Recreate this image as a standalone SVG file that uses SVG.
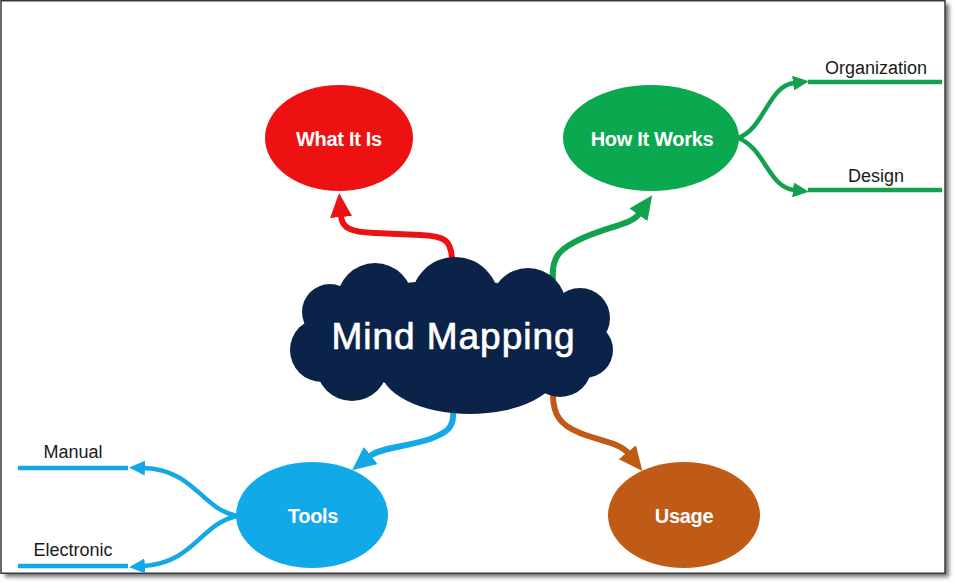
<svg xmlns="http://www.w3.org/2000/svg" width="956" height="585" viewBox="0 0 956 585">
<style>
.conn{fill:none;stroke-linecap:butt;stroke-linejoin:round}
.main{stroke-width:6}
.br{stroke-width:4.5}
.lbl{font-family:"Liberation Sans",Arial,sans-serif;font-weight:bold;font-size:20px;fill:#fff;text-anchor:middle;letter-spacing:-0.3px}
.sub{font-family:"Liberation Sans",Arial,sans-serif;font-size:18px;fill:#1a1a1a;text-anchor:middle}
.red{stroke:#ee1111}.grn{stroke:#12a24e}.blu{stroke:#14a8e6}.brn{stroke:#bf5b17}
</style>
<defs>
<filter id="sh" x="-5%" y="-5%" width="110%" height="110%"><feGaussianBlur stdDeviation="2"/></filter>
<marker id="aR" viewBox="0 0 24 22" refX="1" refY="11" markerWidth="24" markerHeight="22" markerUnits="userSpaceOnUse" orient="auto"><path d="M0,0 L24,11 L0,22 z" fill="#ee1111"/></marker>
<marker id="aG" viewBox="0 0 24 22" refX="1" refY="11" markerWidth="24" markerHeight="22" markerUnits="userSpaceOnUse" orient="auto"><path d="M0,0 L24,11 L0,22 z" fill="#12a24e"/></marker>
<marker id="aB" viewBox="0 0 24 22" refX="1" refY="11" markerWidth="24" markerHeight="22" markerUnits="userSpaceOnUse" orient="auto"><path d="M0,0 L24,11 L0,22 z" fill="#14a8e6"/></marker>
<marker id="aO" viewBox="0 0 24 22" refX="1" refY="11" markerWidth="24" markerHeight="22" markerUnits="userSpaceOnUse" orient="auto"><path d="M0,0 L24,11 L0,22 z" fill="#bf5b17"/></marker>
<marker id="sG" viewBox="0 0 16 15" refX="1" refY="7.5" markerWidth="16" markerHeight="15" markerUnits="userSpaceOnUse" orient="auto"><path d="M0,0 L16,7.5 L0,15 z" fill="#12a24e"/></marker>
<marker id="sB" viewBox="0 0 16 15" refX="1" refY="7.5" markerWidth="16" markerHeight="15" markerUnits="userSpaceOnUse" orient="auto"><path d="M0,0 L16,7.5 L0,15 z" fill="#14a8e6"/></marker>
</defs>

<rect x="5" y="4" width="944" height="573" fill="#000" opacity="0.55" filter="url(#sh)"/>
<rect x="1" y="0.75" width="944" height="572.5" fill="#fff" stroke="#3a3a3a" stroke-width="1.5"/>

<g id="connectors">
<path class="conn main red" d="M452,262 C452,240 445,236 420,235 L375,233 C350,232 342,228 341,216" marker-end="url(#aR)"/>
<path class="conn main grn" d="M553,280 C551,256 560,248 585,237 C610,226 632,224 639,214" marker-end="url(#aG)"/>
<path class="conn main blu" d="M453,410 C455,428 446,433 430,439 C405,447 380,448 370,456" marker-end="url(#aB)"/>
<path class="conn main brn" d="M553,394 C553,415 560,425 580,433 C600,441 620,443 628,453" marker-end="url(#aO)"/>
<path class="conn br grn" d="M738,138 C765,128 768,86 794,83" marker-end="url(#sG)"/>
<path class="conn br grn" d="M738,138 C765,148 768,187 794,190" marker-end="url(#sG)"/>
<path class="conn br grn" d="M808,82 H942"/>
<path class="conn br grn" d="M808,190 H942"/>
<path class="conn br blu" d="M237,516 C200,508 195,470 144,468" marker-end="url(#sB)"/>
<path class="conn br blu" d="M237,516 C200,524 195,562 144,566" marker-end="url(#sB)"/>
<path class="conn br blu" d="M128,468 H18"/>
<path class="conn br blu" d="M128,566 H18"/>
</g>

<g id="mind-mapping">
<g fill="#0b2349">
<ellipse cx="452" cy="335" rx="135" ry="55"/>
<circle cx="375" cy="301" r="38"/>
<circle cx="455" cy="301" r="44"/>
<circle cx="528" cy="306" r="38"/>
<circle cx="580" cy="318" r="30"/>
<circle cx="585" cy="350" r="28"/>
<circle cx="330" cy="312" r="28"/>
<circle cx="322" cy="350" r="32"/>
<circle cx="352" cy="365" r="36"/>
<ellipse cx="470" cy="368" rx="90" ry="46"/>
<circle cx="560" cy="365" r="32"/>
</g>
<text x="453" y="349" font-family="'Liberation Sans',Arial,sans-serif" font-size="37" fill="#fff" stroke="#fff" stroke-width="0.7" text-anchor="middle" textLength="243">Mind Mapping</text>
</g>

<g id="what-it-is">
<ellipse cx="339" cy="138" rx="74" ry="53" fill="#ee1111"/>
<text class="lbl" x="339" y="146">What It Is</text>
</g>

<g id="how-it-works">
<ellipse cx="651" cy="138" rx="88" ry="53" fill="#0aa84f"/>
<text class="lbl" x="652" y="146">How It Works</text>
</g>

<g id="tools">
<ellipse cx="312" cy="515" rx="76" ry="53" fill="#12a9e8"/>
<text class="lbl" x="313" y="523">Tools</text>
</g>

<g id="usage">
<ellipse cx="684" cy="515" rx="76" ry="53" fill="#bf5b16"/>
<text class="lbl" x="684" y="523">Usage</text>
</g>

<g id="organization"><text class="sub" x="876" y="74">Organization</text></g>
<g id="design"><text class="sub" x="876" y="182">Design</text></g>
<g id="manual"><text class="sub" x="73" y="458">Manual</text></g>
<g id="electronic"><text class="sub" x="73" y="556">Electronic</text></g>
</svg>
